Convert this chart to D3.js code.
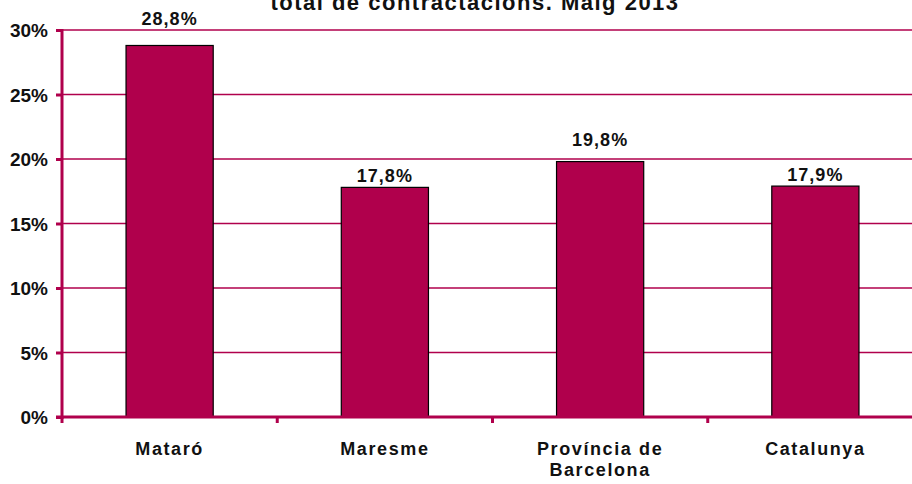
<!DOCTYPE html>
<html>
<head>
<meta charset="utf-8">
<script src="https://cdn.jsdelivr.net/npm/d3@7"></script>
<style>
  html, body { margin: 0; padding: 0; background: #fff; }
  svg { display: block; font-family: Arial, "Liberation Sans", sans-serif; }
</style>
</head>
<body>
<svg id="chart" width="912" height="484"></svg>
<script>
// Share of contracts over the total, May 2013
const categories = ["Mataró", "Maresme", "Província de Barcelona", "Catalunya"];
const categoryLines = [["Mataró"], ["Maresme"], ["Província de", "Barcelona"], ["Catalunya"]];
const values = [28.8, 17.8, 19.8, 17.9];
const valueLabels = ["28,8%", "17,8%", "19,8%", "17,9%"];
const yTicks = [0, 5, 10, 15, 20, 25, 30];
const titleText = "total de contractacions. Maig 2013";

const colorMain = "#b0004c";

const svg = d3.select("#chart");
const plotLeft = 62, plotRight = 923, plotTop = 30, plotBottom = 417;

const x = d3.scaleBand().domain(categories).range([plotLeft, plotRight]).paddingInner(0).paddingOuter(0);
const y = d3.scaleLinear().domain([0, 30]).range([plotBottom, plotTop]);
const barW = x.bandwidth() * 0.405;

// value label baseline: sits just above the bar, or above a gridline that would cross it
function labelY(v) {
  const barTop = y(v);
  const crossing = yTicks.map(y).find(g => g < barTop && g > barTop - 20);
  const b = crossing !== undefined ? crossing - 13 : barTop - 5;
  return Math.max(b, plotTop - 5);
}

// title (first line sits above the visible area)
svg.append("text")
  .attr("x", 475).attr("y", 10)
  .attr("text-anchor", "middle")
  .attr("font-size", 22).attr("font-weight", "bold")
  .attr("letter-spacing", "1.5px")
  .attr("fill", "#111")
  .text(titleText);

// horizontal gridlines
svg.append("g").selectAll("line")
  .data(yTicks.filter(d => d > 0))
  .join("line")
  .attr("x1", plotLeft).attr("x2", 912)
  .attr("y1", d => y(d)).attr("y2", d => y(d))
  .attr("stroke", colorMain).attr("stroke-width", 1.5);

// bars
svg.append("g").selectAll("rect")
  .data(values)
  .join("rect")
  .attr("x", (d, i) => x(categories[i]) + (x.bandwidth() - barW) / 2)
  .attr("y", d => y(d))
  .attr("width", barW)
  .attr("height", d => y(0) - y(d))
  .attr("fill", colorMain)
  .attr("stroke", "#000").attr("stroke-width", 1.2);

// value labels
svg.append("g").selectAll("text")
  .data(values)
  .join("text")
  .attr("x", (d, i) => x(categories[i]) + x.bandwidth() / 2)
  .attr("y", d => labelY(d))
  .attr("text-anchor", "middle")
  .attr("font-size", 18).attr("font-weight", "bold")
  .attr("letter-spacing", "1px")
  .attr("fill", "#111")
  .text((d, i) => valueLabels[i]);

// y axis
const yAxis = d3.axisLeft(y).tickValues(yTicks).tickSize(6).tickFormat(d => d + "%");
const gy = svg.append("g").attr("transform", `translate(${plotLeft},0)`).call(yAxis);
gy.select(".domain").attr("stroke", colorMain).attr("stroke-width", 3)
  .attr("d", `M0,${plotTop - 1}V${plotBottom + 2}`);
gy.selectAll(".tick line").attr("stroke", colorMain).attr("stroke-width", 3);
gy.selectAll(".tick text")
  .attr("x", -14).attr("dy", "0.35em")
  .attr("font-size", 19).attr("font-weight", "bold")
  .attr("fill", "#111")
  .attr("font-family", "Arial, 'Liberation Sans', sans-serif");

// x axis
const xAxis = d3.axisBottom(x).tickSize(0).tickFormat("");
const gx = svg.append("g").attr("transform", `translate(0,${plotBottom})`).call(xAxis);
gx.select(".domain").attr("stroke", colorMain).attr("stroke-width", 3)
  .attr("d", `M${plotLeft - 6},0H912`);
gx.selectAll(".tick").remove();

// category boundary ticks
const boundaries = categories.map(c => x(c)).filter(v => v <= 912);
svg.append("g").selectAll("line")
  .data(boundaries)
  .join("line")
  .attr("x1", d => d).attr("x2", d => d)
  .attr("y1", plotBottom).attr("y2", plotBottom + 6)
  .attr("stroke", colorMain).attr("stroke-width", 3);

// category labels
const cat = svg.append("g").selectAll("text")
  .data(categoryLines)
  .join("text")
  .attr("x", (d, i) => x(categories[i]) + x.bandwidth() / 2)
  .attr("y", 455)
  .attr("text-anchor", "middle")
  .attr("font-size", 18).attr("font-weight", "bold")
  .attr("letter-spacing", "1.6px")
  .attr("fill", "#111");
cat.selectAll("tspan")
  .data(d => d)
  .join("tspan")
  .attr("x", function() { return d3.select(this.parentNode).attr("x"); })
  .attr("dy", (d, i) => i === 0 ? 0 : 21)
  .text(d => d);
</script>
</body>
</html>
